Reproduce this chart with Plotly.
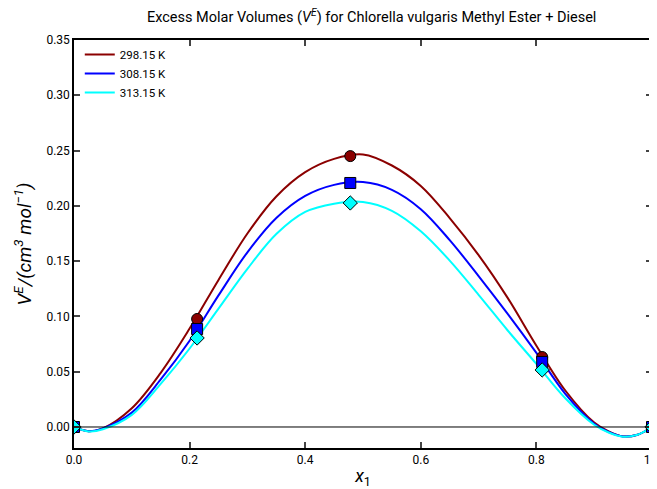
import plotly.graph_objects as go

# measured points
x_exp = [0.0, 0.213, 0.478, 0.81, 1.0]
ve_298 = [0.0, 0.0977, 0.245, 0.0633, 0.0]
ve_308 = [0.0, 0.0886, 0.2207, 0.0588, 0.0]
ve_313 = [0.0, 0.0805, 0.2026, 0.0516, 0.0]

# fitted curves
x_fit = [0.0, 0.025, 0.05, 0.1, 0.15, 0.2, 0.25, 0.3, 0.35, 0.4, 0.45, 0.5,
         0.55, 0.6, 0.65, 0.7, 0.75, 0.8, 0.85, 0.9, 0.925, 0.95, 0.975, 1.0]
fit_298 = [0.0, -0.0038, -0.0012, 0.017, 0.049, 0.089, 0.133, 0.175, 0.2085,
           0.2305, 0.2425, 0.2465, 0.2365, 0.218, 0.189, 0.1555, 0.117, 0.0735,
           0.033, 0.004, -0.004, -0.0085, -0.007, 0.0]
fit_308 = [0.0, -0.0038, -0.0013, 0.013, 0.043, 0.078, 0.119, 0.158, 0.189,
           0.209, 0.219, 0.2215, 0.2145, 0.197, 0.169, 0.1365, 0.1025, 0.067,
           0.030, 0.003, -0.0045, -0.0085, -0.007, 0.0]
fit_313 = [0.0, -0.004, -0.002, 0.011, 0.039, 0.071, 0.107, 0.143, 0.1745,
           0.1945, 0.202, 0.2035, 0.1955, 0.177, 0.1505, 0.1195, 0.0875, 0.057,
           0.026, 0.002, -0.005, -0.0088, -0.007, 0.0]

labels = ["298.15 K", "308.15 K", "313.15 K"]
colors = ["#8b0000", "#0000ff", "#00ffff"]
symbols = ["circle", "square", "diamond"]

fig = go.Figure()

for name, col, fy in zip(labels, colors, [fit_298, fit_308, fit_313]):
    fig.add_trace(go.Scatter(x=x_fit, y=fy, mode="lines", name=name,
                             line=dict(color=col, width=2, shape="spline", smoothing=1.0)))

for col, sym, ey in zip(colors, symbols, [ve_298, ve_308, ve_313]):
    fig.add_trace(go.Scatter(x=x_exp, y=ey, mode="markers", showlegend=False,
                             marker=dict(color=col, symbol=sym, size=11,
                                         line=dict(color="black", width=1))))

fig.add_hline(y=0, line=dict(color="black", width=1))

# page body has an 8px margin, so the figure is shrunk by 8px
fig.update_layout(
    width=649, height=481,
    plot_bgcolor="white", paper_bgcolor="white",
    margin=dict(l=66, r=5, t=32, b=41),
    font=dict(family="Roboto", size=12, color="black"),
    title=dict(text="Excess Molar Volumes (<i>V<sup>E</sup></i>) for Chlorella vulgaris Methyl Ester + Diesel",
               xref="paper", x=0.515, xanchor="center",
               yref="container", y=0.981, yanchor="middle",
               font=dict(size=14.5)),
    legend=dict(x=0.01, y=1.0, xanchor="left", yanchor="top",
                bgcolor="rgba(0,0,0,0)", font=dict(size=11.5),
                tracegroupgap=0, itemwidth=30),
)

fig.update_xaxes(range=[0, 1], dtick=0.2, tickformat=".1f", ticklabeloverflow="allow",
                 showgrid=False, zeroline=False, automargin=False,
                 showline=True, linecolor="black", linewidth=1.5, mirror="ticks",
                 ticks="inside", ticklen=6, tickwidth=1.5,
                 title=dict(text="<i>x</i><sub>1</sub>", font=dict(size=18), standoff=12))
fig.update_yaxes(range=[-0.019, 0.35], dtick=0.05, tickformat=".2f",
                 showgrid=False, zeroline=False, automargin=False,
                 showline=True, linecolor="black", linewidth=1.5, mirror="ticks",
                 ticks="inside", ticklen=6, tickwidth=1.5,
                 title=dict(text="<i>V<sup>E</sup>/(cm<sup>3</sup> mol<sup>−1</sup>)</i>",
                            font=dict(size=19), standoff=10))

fig.write_html("out.html")
